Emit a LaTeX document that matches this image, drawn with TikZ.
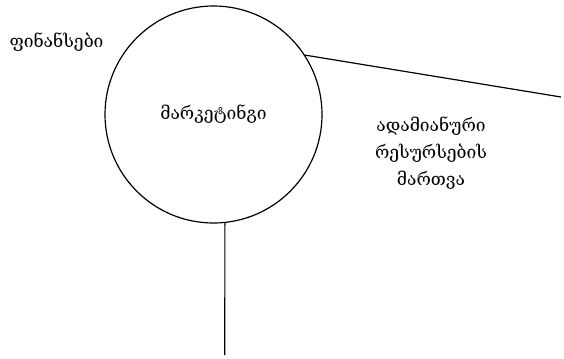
\documentclass[tikz,border=0pt]{standalone}
\usepackage{fontspec}
\newfontfamily\geofont{DejaVu Serif}
\usetikzlibrary{positioning}

\tikzset{
    label text/.style={font=\geofont\fontsize{17.5}{27}\selectfont, align=center, inner sep=0pt},
    rim/.style={line width=1.2pt}
}

\begin{document}
\begin{tikzpicture}[x=1bp, y=-1bp]
    \useasboundingbox (0,0) rectangle (564,358);
    % central circle
    \node[draw, circle, rim, minimum size=217bp, label text] (mk) at (213.5,114.5) {მარკეტინგი};
    \node[label text] (fin) at (56.5,42) {ფინანსები};
    \node[label text] (hr) at (431,153) {ადამიანური\\რესურსების\\მართვა};
    % free ends
    \coordinate (east) at (561,97);
    \coordinate (south) at (224.8,355);
    \draw[rim] (mk.33) -- (east);
    \draw[rim] (mk.-84) -- (south);
\end{tikzpicture}
\end{document}
